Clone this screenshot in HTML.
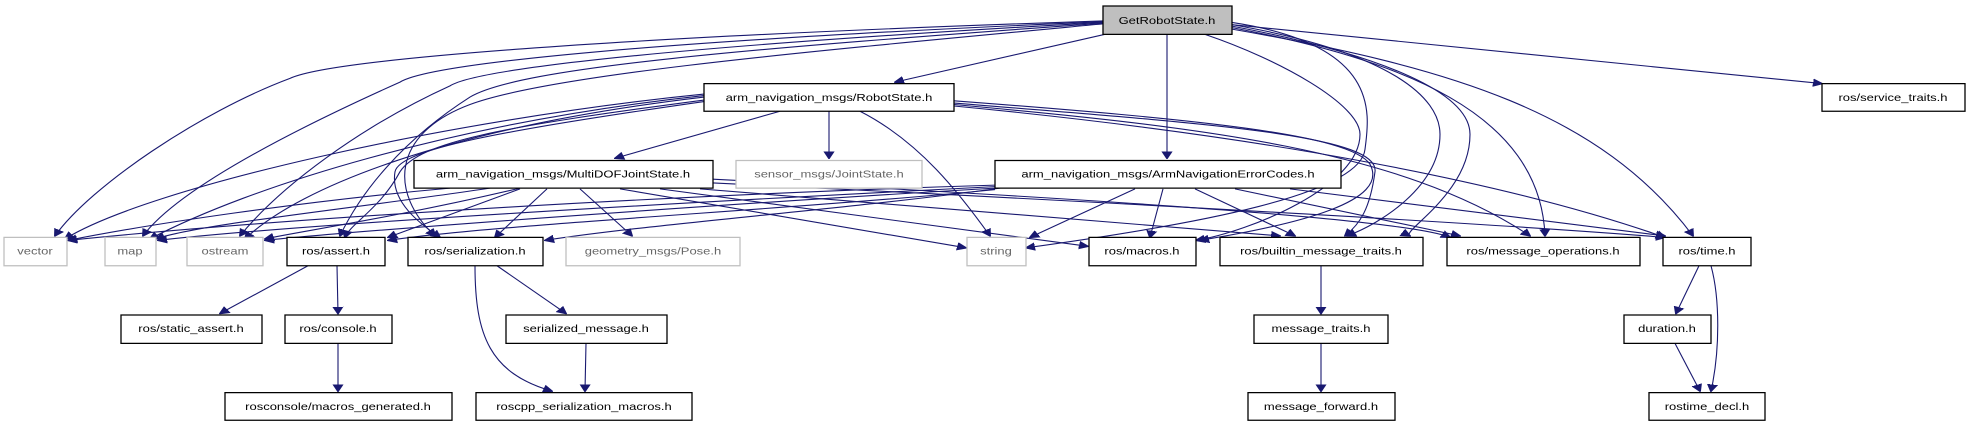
<!DOCTYPE html>
<html><head><meta charset="utf-8"><style>
html,body{margin:0;padding:0;background:#fff;overflow:hidden;}
svg{display:block;}
text{font-family:"Liberation Sans","DejaVu Sans",sans-serif;font-size:13px;fill:#000;text-anchor:middle;}
.n{fill:#fff;stroke:#000;stroke-width:1.3;}
.g{fill:#fff;stroke:#bfbfbf;stroke-width:1.3;}
rect{vector-effect:non-scaling-stroke;}
.e path{fill:none;stroke:#191970;stroke-width:1.1;vector-effect:non-scaling-stroke;}
</style></head><body>
<svg width="1967" height="427" viewBox="0 0 1967 572" preserveAspectRatio="none" xmlns="http://www.w3.org/2000/svg">
<defs><marker id="a" viewBox="0 0 10 10" refX="9" refY="5" markerWidth="10" markerHeight="12" markerUnits="userSpaceOnUse" orient="auto"><path d="M0,0 L10,5 L0,10 z" fill="#191970" stroke="#191970"/></marker></defs>
<g class="e">
<path marker-end="url(#a)" d="M1103,28 C600,50 330,80 290,105 C200,150 90,250 55,316"/>
<path marker-end="url(#a)" d="M1103,29 C650,55 430,85 400,110 C300,170 180,250 143,316"/>
<path marker-end="url(#a)" d="M1103,30 C700,60 480,90 450,115 C360,170 280,250 240,316"/>
<path marker-end="url(#a)" d="M1103,31 C750,65 520,90 470,130 C400,190 360,260 340,316"/>
<path marker-end="url(#a)" d="M1103,32 C800,70 550,100 470,140 C390,180 390,260 435,316"/>
<path marker-end="url(#a)" d="M704,126 C450,160 150,250 65,320"/>
<path marker-end="url(#a)" d="M704,128 C450,165 250,250 150,320"/>
<path marker-end="url(#a)" d="M704,130 C450,170 300,250 245,320"/>
<path marker-end="url(#a)" d="M704,134 C500,170 420,190 400,230 C380,280 350,300 345,318"/>
<path marker-end="url(#a)" d="M704,136 C500,175 400,200 395,230 C390,270 420,300 440,318"/>
<path marker-end="url(#a)" d="M780,149 L615,212"/>
<path marker-end="url(#a)" d="M829,149 L829,212"/>
<path marker-end="url(#a)" d="M860,149 C920,190 960,260 990,316"/>
<path marker-end="url(#a)" d="M954,135 C1200,160 1350,180 1370,220 C1390,270 1300,300 1200,322"/>
<path marker-end="url(#a)" d="M954,138 C1200,165 1380,180 1375,230 C1370,280 1360,300 1345,316"/>
<path marker-end="url(#a)" d="M954,140 C1200,170 1400,200 1530,316"/>
<path marker-end="url(#a)" d="M954,142 C1250,180 1500,240 1665,318"/>
<path marker-end="url(#a)" d="M1205,46 C1280,80 1360,140 1360,180 C1360,250 1250,310 1196,322"/>
<path marker-end="url(#a)" d="M1232,30 C1380,60 1370,150 1365,200 C1360,260 1200,300 1026,332"/>
<path marker-end="url(#a)" d="M1232,35 C1370,70 1470,120 1470,180 C1470,260 1400,310 1410,316"/>
<path marker-end="url(#a)" d="M1232,33 C1390,70 1440,130 1440,180 C1440,250 1380,300 1347,316"/>
<path marker-end="url(#a)" d="M1232,37 C1400,80 1540,150 1545,316"/>
<path marker-end="url(#a)" d="M1232,39 C1450,90 1600,150 1693,316"/>
<path marker-end="url(#a)" d="M1232,33 L1822,112"/>
<path marker-end="url(#a)" d="M1167,46 L1167,212"/>
<path marker-end="url(#a)" d="M1105,46 L895,110"/>
<path marker-end="url(#a)" d="M450,252 C300,270 150,300 68,322"/>
<path marker-end="url(#a)" d="M490,252 C350,280 200,300 156,320"/>
<path marker-end="url(#a)" d="M520,252 C400,290 300,310 265,320"/>
<path marker-end="url(#a)" d="M520,253 L388,318"/>
<path marker-end="url(#a)" d="M547,253 L495,318"/>
<path marker-end="url(#a)" d="M580,253 L632,316"/>
<path marker-end="url(#a)" d="M620,253 L966,332"/>
<path marker-end="url(#a)" d="M660,253 L1088,330"/>
<path marker-end="url(#a)" d="M700,253 L1280,316"/>
<path marker-end="url(#a)" d="M713,240 C1000,260 1400,290 1450,318"/>
<path marker-end="url(#a)" d="M713,245 C1100,270 1500,300 1665,318"/>
<path marker-end="url(#a)" d="M995,248 C700,260 300,290 68,322"/>
<path marker-end="url(#a)" d="M995,250 C700,270 300,300 158,322"/>
<path marker-end="url(#a)" d="M995,252 C700,275 350,310 265,322"/>
<path marker-end="url(#a)" d="M995,254 C800,280 500,300 388,322"/>
<path marker-end="url(#a)" d="M1000,252 C850,280 650,300 545,322"/>
<path marker-end="url(#a)" d="M1135,253 L1030,318"/>
<path marker-end="url(#a)" d="M1163,253 L1150,318"/>
<path marker-end="url(#a)" d="M1195,253 L1295,316"/>
<path marker-end="url(#a)" d="M1235,253 L1460,316"/>
<path marker-end="url(#a)" d="M1290,253 L1665,316"/>
<path marker-end="url(#a)" d="M308,356 L220,420"/>
<path marker-end="url(#a)" d="M337,356 L338,420"/>
<path marker-end="url(#a)" d="M497,356 L566,420"/>
<path marker-end="url(#a)" d="M475,356 C475,450 490,500 552,524"/>
<path marker-end="url(#a)" d="M586,460 L585,524"/>
<path marker-end="url(#a)" d="M1321,356 L1321,420"/>
<path marker-end="url(#a)" d="M1321,460 L1321,524"/>
<path marker-end="url(#a)" d="M338,460 L338,524"/>
<path marker-end="url(#a)" d="M1699,356 L1676,420"/>
<path marker-end="url(#a)" d="M1711,356 C1720,400 1720,470 1711,524"/>
<path marker-end="url(#a)" d="M1675,460 L1700,524"/>
</g>
<g>
<rect x="1103" y="8" width="129" height="38" fill="#bfbfbf" stroke="#000" stroke-width="1.3"/><text x="1167" y="32">GetRobotState.h</text>
<rect class="n" x="704" y="112" width="250" height="37"/><text x="829" y="135">arm_navigation_msgs/RobotState.h</text>
<rect class="n" x="1822" y="112" width="143" height="37"/><text x="1893" y="135">ros/service_traits.h</text>
<rect class="n" x="414" y="215" width="299" height="37"/><text x="563" y="238">arm_navigation_msgs/MultiDOFJointState.h</text>
<rect class="g" x="736" y="215" width="186" height="37"/><text x="829" y="238" style="fill:#666">sensor_msgs/JointState.h</text>
<rect class="n" x="995" y="215" width="346" height="37"/><text x="1168" y="238">arm_navigation_msgs/ArmNavigationErrorCodes.h</text>
<rect class="g" x="4" y="318" width="63" height="38"/><text x="35" y="341" style="fill:#666">vector</text>
<rect class="g" x="105" y="318" width="51" height="38"/><text x="130" y="341" style="fill:#666">map</text>
<rect class="g" x="187" y="318" width="76" height="38"/><text x="225" y="341" style="fill:#666">ostream</text>
<rect class="n" x="287" y="318" width="98" height="38"/><text x="336" y="341">ros/assert.h</text>
<rect class="n" x="408" y="318" width="135" height="38"/><text x="475" y="341">ros/serialization.h</text>
<rect class="g" x="566" y="318" width="174" height="38"/><text x="653" y="341" style="fill:#666">geometry_msgs/Pose.h</text>
<rect class="g" x="967" y="318" width="59" height="38"/><text x="996" y="341" style="fill:#666">string</text>
<rect class="n" x="1089" y="318" width="107" height="38"/><text x="1142" y="341">ros/macros.h</text>
<rect class="n" x="1220" y="318" width="203" height="38"/><text x="1321" y="341">ros/builtin_message_traits.h</text>
<rect class="n" x="1447" y="318" width="193" height="38"/><text x="1543" y="341">ros/message_operations.h</text>
<rect class="n" x="1663" y="318" width="88" height="38"/><text x="1707" y="341">ros/time.h</text>
<rect class="n" x="121" y="422" width="141" height="38"/><text x="191" y="445">ros/static_assert.h</text>
<rect class="n" x="285" y="422" width="107" height="38"/><text x="338" y="445">ros/console.h</text>
<rect class="n" x="506" y="422" width="161" height="38"/><text x="586" y="445">serialized_message.h</text>
<rect class="n" x="1254" y="422" width="134" height="38"/><text x="1321" y="445">message_traits.h</text>
<rect class="n" x="1624" y="422" width="87" height="38"/><text x="1667" y="445">duration.h</text>
<rect class="n" x="225" y="526" width="227" height="37"/><text x="338" y="549">rosconsole/macros_generated.h</text>
<rect class="n" x="476" y="526" width="216" height="37"/><text x="584" y="549">roscpp_serialization_macros.h</text>
<rect class="n" x="1248" y="526" width="147" height="37"/><text x="1321" y="549">message_forward.h</text>
<rect class="n" x="1649" y="526" width="116" height="37"/><text x="1707" y="549">rostime_decl.h</text>
</g>
</svg>
</body></html>
